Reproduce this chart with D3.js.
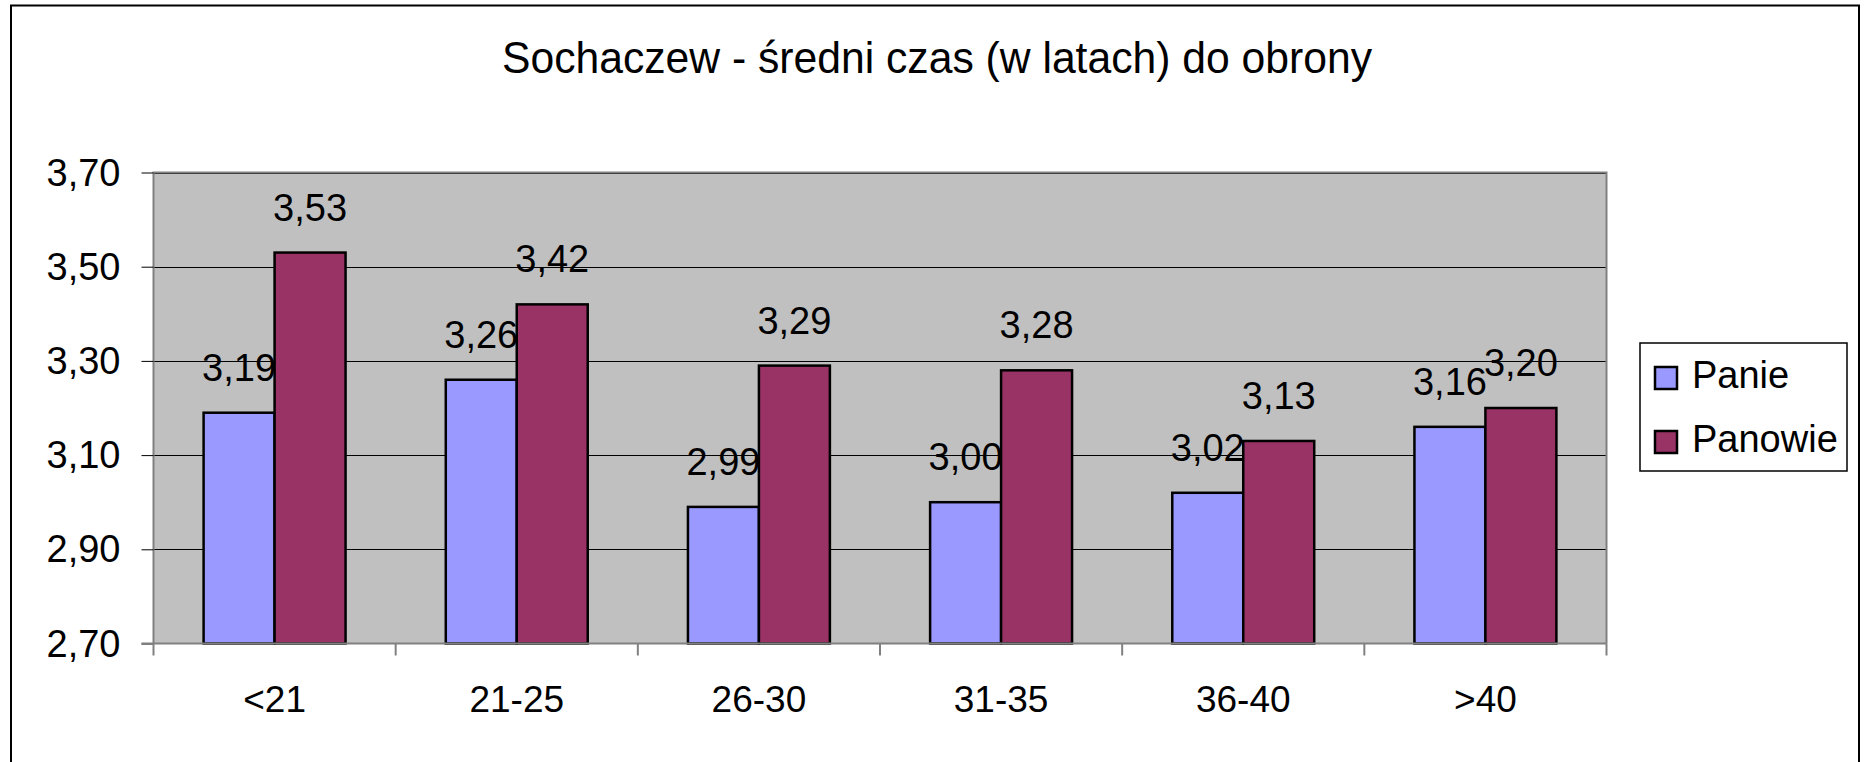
<!DOCTYPE html>
<html>
<head>
<meta charset="utf-8">
<script src="https://cdn.jsdelivr.net/npm/d3@7"></script>
<style>
  html, body { margin: 0; padding: 0; background: #fff; }
  svg { display: block; font-family: "Liberation Sans", Arial, sans-serif; }
</style>
</head>
<body>
<svg width="1866" height="762"></svg>
<script>
// chart data
var categories = ["<21", "21-25", "26-30", "31-35", "36-40", ">40"];
var series = ["Panie", "Panowie"];
var panie = [3.19, 3.26, 2.99, 3.00, 3.02, 3.16];
var panowie = [3.53, 3.42, 3.29, 3.28, 3.13, 3.20];
var yTicks = [2.7, 2.9, 3.1, 3.3, 3.5, 3.7];
var title = "Sochaczew - średni czas (w latach) do obrony";

var colors = { "Panie": "#9999FF", "Panowie": "#993366" };

var svg = d3.select("svg"),
    width = +svg.attr("width"),
    height = +svg.attr("height");

var plot = { left: 153.5, right: 1606.5, top: 172.5, bottom: 643.5 };

var pl = d3.formatLocale({ decimal: ",", thousands: " ", grouping: [3], currency: ["", " zł"] });
var fmt = pl.format(".2f");

// outer chart frame
svg.append("rect")
    .attr("x", 11).attr("y", 5.5)
    .attr("width", 1848).attr("height", 800)
    .attr("fill", "#fff")
    .attr("stroke", "#000")
    .attr("stroke-width", 2);

svg.append("text")
    .attr("x", 937).attr("y", 72.5)
    .attr("text-anchor", "middle")
    .attr("font-size", 44)
    .attr("textLength", 870)
    .attr("lengthAdjust", "spacingAndGlyphs")
    .text(title);

var x0 = d3.scaleBand()
    .domain(categories)
    .range([plot.left, plot.right])
    .padding(0);

var x1 = d3.scaleBand()
    .domain(series)
    .range([0, x0.bandwidth()])
    .paddingInner(0)
    .paddingOuter(0.706);

var y = d3.scaleLinear()
    .domain([2.7, 3.7])
    .range([plot.bottom, plot.top]);

// plot area background
svg.append("rect")
    .attr("x", plot.left).attr("y", plot.top)
    .attr("width", plot.right - plot.left)
    .attr("height", plot.bottom - plot.top)
    .attr("fill", "#C0C0C0");

// gridlines
svg.append("g")
    .selectAll("line")
    .data(yTicks.slice(1))
    .join("line")
    .attr("x1", plot.left).attr("x2", plot.right)
    .attr("y1", function(d) { return Math.round(y(d)) + 0.5; })
    .attr("y2", function(d) { return Math.round(y(d)) + 0.5; })
    .attr("stroke", "#000")
    .attr("stroke-width", 1);

// plot border (left, top, right)
svg.append("path")
    .attr("d", "M" + plot.left + "," + plot.bottom + "V" + plot.top + "H" + plot.right + "V" + plot.bottom)
    .attr("fill", "none")
    .attr("stroke", "#808080")
    .attr("stroke-width", 2);

var rows = categories.map(function(c, i) {
    return { cat: c, values: [{ key: "Panie", v: panie[i] }, { key: "Panowie", v: panowie[i] }] };
});

var groups = svg.append("g")
    .selectAll("g")
    .data(rows)
    .join("g")
    .attr("transform", function(d) { return "translate(" + x0(d.cat) + ",0)"; });

groups.selectAll("rect")
    .data(function(d) { return d.values; })
    .join("rect")
    .attr("x", function(d) { return x1(d.key); })
    .attr("y", function(d) { return y(d.v); })
    .attr("width", x1.bandwidth())
    .attr("height", function(d) { return y(2.7) - y(d.v); })
    .attr("fill", function(d) { return colors[d.key]; })
    .attr("stroke", "#000")
    .attr("stroke-width", 2.5);

groups.selectAll("text")
    .data(function(d) { return d.values; })
    .join("text")
    .attr("x", function(d) { return x1(d.key) + x1.bandwidth() / 2; })
    .attr("y", function(d) { return y(d.v) - 32; })
    .attr("text-anchor", "middle")
    .attr("font-size", 38)
    .text(function(d) { return fmt(d.v); });

// y axis
var yAxis = svg.append("g")
    .attr("transform", "translate(" + plot.left + ",0)")
    .call(d3.axisLeft(y).tickValues(yTicks).tickFormat(fmt).tickSize(12).tickPadding(21));
yAxis.select(".domain").remove();
yAxis.selectAll(".tick line").attr("stroke", "#000");
yAxis.selectAll(".tick text")
    .attr("font-size", 38)
    .attr("font-family", "Liberation Sans, Arial, sans-serif")
    .attr("fill", "#000")
    .attr("dy", "0.33em");

// x axis line and boundary ticks
svg.append("line")
    .attr("x1", plot.left - 12).attr("x2", plot.right)
    .attr("y1", plot.bottom).attr("y2", plot.bottom)
    .attr("stroke", "#808080").attr("stroke-width", 2);

var bounds = categories.map(function(c) { return x0(c); }).concat([plot.right]);
svg.append("g")
    .selectAll("line")
    .data(bounds)
    .join("line")
    .attr("x1", function(d) { return d; }).attr("x2", function(d) { return d; })
    .attr("y1", plot.bottom).attr("y2", plot.bottom + 12)
    .attr("stroke", "#808080").attr("stroke-width", 2);

var xAxis = svg.append("g")
    .attr("transform", "translate(0," + plot.bottom + ")")
    .call(d3.axisBottom(x0).tickSize(0).tickPadding(42));
xAxis.select(".domain").remove();
xAxis.selectAll(".tick text")
    .attr("font-size", 37)
    .attr("font-family", "Liberation Sans, Arial, sans-serif")
    .attr("fill", "#000");

// legend
var legend = svg.append("g").attr("transform", "translate(1640,343)");
legend.append("rect")
    .attr("width", 207).attr("height", 128)
    .attr("fill", "#fff")
    .attr("stroke", "#000").attr("stroke-width", 1.5);

var items = legend.selectAll("g.item")
    .data(series)
    .join("g")
    .attr("class", "item")
    .attr("transform", function(d, i) { return "translate(0," + (i * 64) + ")"; });

items.append("rect")
    .attr("x", 15).attr("y", 24)
    .attr("width", 22).attr("height", 22)
    .attr("fill", function(d) { return colors[d]; })
    .attr("stroke", "#000").attr("stroke-width", 2.5);

items.append("text")
    .attr("x", 52).attr("y", 45)
    .attr("font-size", 38)
    .text(function(d) { return d; });
</script>
</body>
</html>
